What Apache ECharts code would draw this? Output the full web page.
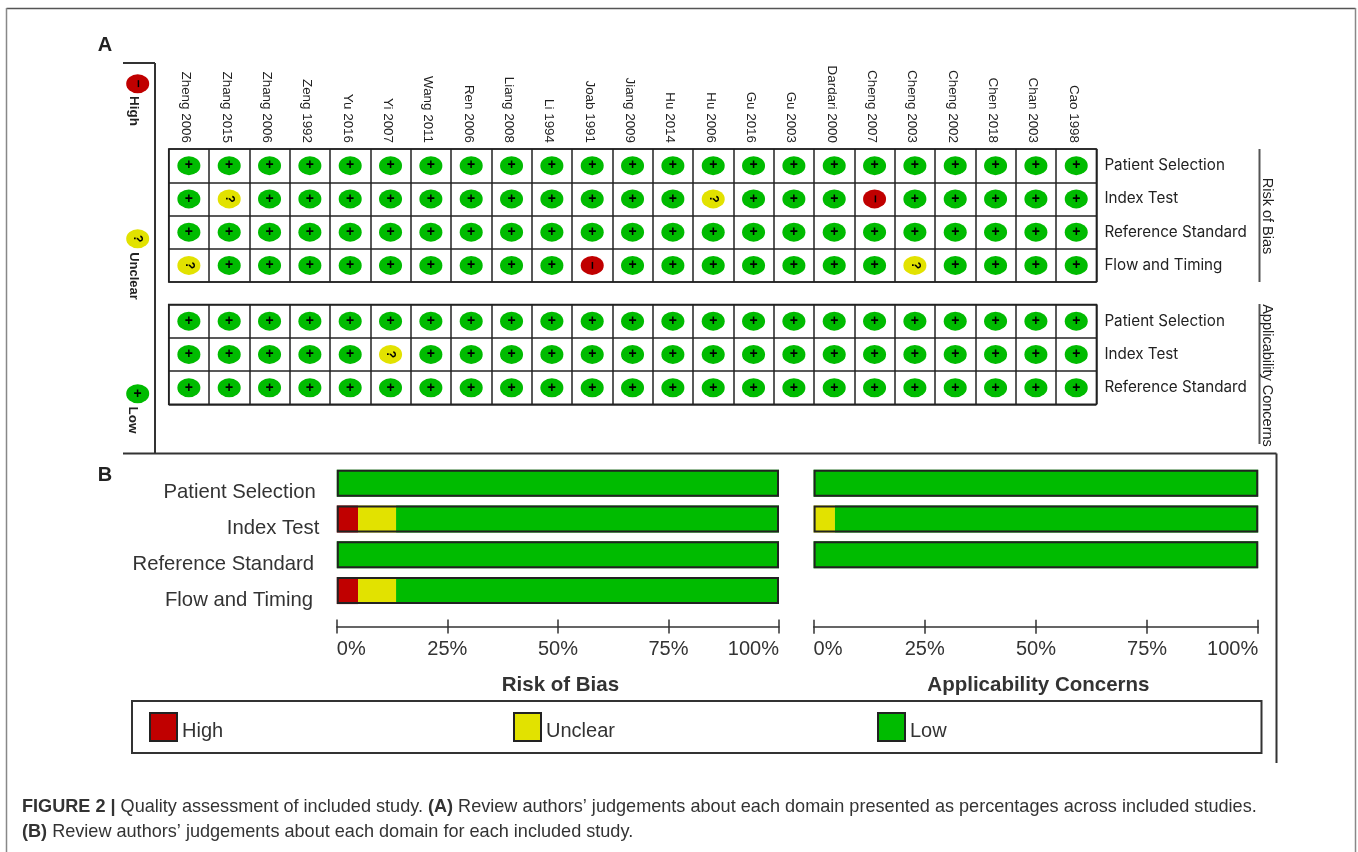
<!DOCTYPE html>
<html>
<head>
<meta charset="utf-8">
<style>html,body{margin:0;padding:0;background:#fff}#c{width:1358px;height:852px}</style>
<script src="https://cdn.jsdelivr.net/npm/echarts@6/dist/echarts.min.js"></script>
</head>
<body>
<div id="c"></div>
<script>
const studies = ['Zheng 2006','Zhang 2015','Zhang 2006','Zeng 1992','Yu 2016','Yi 2007','Wang 2011','Ren 2006','Liang 2008','Li 1994','Joab 1991','Jiang 2009','Hu 2014','Hu 2006','Gu 2016','Gu 2003','Dardari 2000','Cheng 2007','Cheng 2003','Cheng 2002','Chen 2018','Chan 2003','Cao 1998'];
const riskDomains = ['Patient Selection','Index Test','Reference Standard','Flow and Timing'];
const applicabilityDomains = ['Patient Selection','Index Test','Reference Standard'];
const riskJudgements = [
  'LLLLLLLLLLLLLLLLLLLLLLL',
  'LULLLLLLLLLLLULLLHLLLLL',
  'LLLLLLLLLLLLLLLLLLLLLLL',
  'ULLLLLLLLLHLLLLLLLULLLL'
];
const applicabilityJudgements = [
  'LLLLLLLLLLLLLLLLLLLLLLL',
  'LLLLLULLLLLLLLLLLLLLLLL',
  'LLLLLLLLLLLLLLLLLLLLLLL'
];
const judgementKeys = ['H','U','L'];
const judgementNames = ['High','Unclear','Low'];
const judgementColors = ['#c00000','#e2e200','#00bb00'];
const judgementMarks = ['\u2013','?','+'];
const riskHigh = [0,4.8,0,4.8];
const riskUnclear = [0,8.6,0,8.6];
const riskLow = [100,86.6,100,86.6];
const riskTotal = [100,100,100,100];
const applicabilityHigh = [0,0,0];
const applicabilityUnclear = [0,4.8,0];
const applicabilityLow = [100,95.2,100];
const applicabilityTotal = [100,100,100];
const percentTicks = {min:0,max:100,interval:25};
const riskLabelNudge = [3.6,0,5.3,6.3];

const ink = '#222';
const ellipse = 'path://M0,10 A10,10 0 1,1 20,10 A10,10 0 1,1 0,10 Z';
const dotStyle = k => ({
  show:true, position:'inside', color:'#000', fontFamily:'Liberation Sans', fontWeight:'bold',
  fontSize: k===1 ? 12 : 14, rotate: k===2 ? 0 : -90,
  formatter: () => judgementMarks[k]
});

function marks(rows, axisIdx){
  return judgementKeys.map((key,k)=>{
    const data=[];
    rows.forEach((row,r)=>[...row].forEach((c,s)=>{ if(c===key) data.push([s,r]); }));
    return {
      type:'scatter', name:judgementNames[k]+' mark', xAxisIndex:axisIdx, yAxisIndex:axisIdx,
      symbol:ellipse, symbolSize:[23,19], itemStyle:{color:judgementColors[k],opacity:1},
      label:dotStyle(k), silent:true, data
    };
  });
}
function matrixAxes(domains, showStudies, gridIndex){
  return {
    x:{type:'category',gridIndex,position:'top',data:studies,
       axisLine:{show:false},axisTick:{show:false},
       splitLine:{show:true,lineStyle:{color:ink,width:1.5}},
       axisLabel:{show:showStudies,interval:0,rotate:90,margin:6,fontSize:13.4,color:'#222',fontFamily:'Liberation Sans',
         formatter:'{s|{value}}',
         rich:{s:{fontSize:13.4,color:'#222',fontFamily:'Liberation Sans',padding:[6,0,0,0]}}}},
    y:{type:'category',gridIndex,position:'right',inverse:true,data:domains,
       axisLine:{show:false},axisTick:{show:false},
       splitLine:{show:true,lineStyle:{color:ink,width:1.5}},
       axisLabel:{margin:8,fontSize:15.2,color:'#222',fontFamily:'Inter'}}
  };
}
function percentAxes(gridIndex, offset, title){
  const base = Object.assign({type:'value',gridIndex,position:'bottom',offset},percentTicks);
  const line = {show:true,onZero:false,lineStyle:{color:'#333',width:1.5}};
  return [
    Object.assign({},base,{axisLine:line,splitLine:{show:false},
      axisTick:{show:true,length:7,lineStyle:{color:'#333',width:1.5}},
      axisLabel:{show:true,margin:13,fontSize:20,color:'#333',fontFamily:'Liberation Sans',formatter:'{value}%',alignMinLabel:'left',alignMaxLabel:'right',showMinLabel:true,showMaxLabel:true},
      name:title,nameLocation:'middle',nameGap:48,
      nameTextStyle:{fontSize:20.5,fontWeight:'bold',color:'#333',fontFamily:'Liberation Sans',padding:[0,0,0,5]}}),
    Object.assign({},base,{axisLine:{show:false},splitLine:{show:false},axisLabel:{show:false},
      axisTick:{show:true,inside:true,length:7,lineStyle:{color:'#333',width:1.5}}})
  ];
}
function bars(axisX,axisY,stack,high,unclear,low,total){
  const seg=(name,color,data)=>({type:'bar',name,stack,xAxisIndex:axisX,yAxisIndex:axisY,barWidth:27,barGap:'-100%',
    itemStyle:{color,borderWidth:0},silent:true,data});
  return [
    seg('High',judgementColors[0],high),
    seg('Unclear',judgementColors[1],unclear),
    seg('Low',judgementColors[2],low),
    {type:'bar',name:stack+' outline',xAxisIndex:axisX,yAxisIndex:axisY,barWidth:27,barGap:'-100%',z:5,silent:true,
     itemStyle:{color:'rgba(0,0,0,0)',borderColor:ink,borderWidth:2},data:total}
  ];
}
const a1 = matrixAxes(riskDomains,true,0), a2 = matrixAxes(applicabilityDomains,false,1);
const px1 = percentAxes(2,18,'Risk of Bias'), px2 = percentAxes(3,54,'Applicability Concerns');

const line=(x1,y1,x2,y2,color,w)=>({type:'line',shape:{x1,y1,x2,y2},style:{stroke:color||'#333',lineWidth:w||2},silent:true});
const text=(t,x,y,o)=>({type:'text',x,y,rotation:(o&&o.rot)||0,silent:true,style:Object.assign({text:t,fill:'#222',font:(o&&o.font)||'14px "Liberation Sans"',textAlign:'center',textVerticalAlign:'middle'},o&&o.style)});
const vtext=(t,x,y,font)=>text(t,x,y,{rot:-Math.PI/2,font});

const legendAt=(name,left)=>({show:true,data:[name],left,top:712,padding:0,orient:'horizontal',selectedMode:false,
  icon:'rect',itemWidth:27,itemHeight:28,itemStyle:{borderColor:ink,borderWidth:2},
  formatter:'{a|{name}}',
  textStyle:{fontSize:20,color:'#333',fontFamily:'Liberation Sans',
    rich:{a:{fontSize:20,color:'#333',fontFamily:'Liberation Sans',padding:[8,0,0,0]}}}});

const option={
  animation:false,backgroundColor:'#fff',
  title:[{
    left:22,top:794,padding:0,
    text:'{b|FIGURE 2 |} Quality assessment of included study. {b|(A)} Review authors\u2019 judgements about each domain presented as percentages across included studies.\n{b|(B)} Review authors\u2019 judgements about each domain for each included study.',
    textStyle:{fontSize:18.1,fontWeight:'normal',color:'#333',fontFamily:'Liberation Sans',lineHeight:25,
      rich:{b:{fontWeight:'bold',fontSize:18.1,color:'#333',fontFamily:'Liberation Sans',lineHeight:25}}}
  }],
  legend:[legendAt('High',149),legendAt('Unclear',513),legendAt('Low',877)],
  grid:[
    {left:168.7,top:149,width:927.7,height:133,show:true,borderColor:ink,borderWidth:1.5,backgroundColor:'transparent'},
    {left:168.7,top:304.5,width:927.7,height:99.8,show:true,borderColor:ink,borderWidth:1.5,backgroundColor:'transparent'},
    {left:336.8,top:465.3,width:442.2,height:143.2},
    {left:813.6,top:465.3,width:444.6,height:107.4},
    {left:125.7,top:6.2,width:24,height:465}
  ],
  xAxis:[a1.x,a2.x,px1[0],px1[1],px2[0],px2[1],{type:'value',gridIndex:4,min:0,max:1,show:false}],
  yAxis:[a1.y,a2.y,
    {type:'category',gridIndex:2,inverse:true,data:riskDomains,axisLine:{show:false},axisTick:{show:false},
     axisLabel:{margin:17.5,color:'#333',fontSize:20.3,fontFamily:'Liberation Sans',
       formatter:(v,i)=>'{n'+i+'|'+v+'}',
       rich:Object.fromEntries(riskLabelNudge.map((r,i)=>['n'+i,{fontSize:20.3,color:'#333',fontFamily:'Liberation Sans',padding:[19,r,0,0]}]))}},
    {type:'category',gridIndex:3,inverse:true,data:applicabilityDomains,axisLine:{show:false},axisTick:{show:false},axisLabel:{show:false}},
    {type:'category',gridIndex:4,inverse:true,data:judgementNames,show:false}
  ],
  series:[
    ...bars(2,2,'risk',riskHigh,riskUnclear,riskLow,riskTotal),
    ...bars(4,3,'applicability',applicabilityHigh,applicabilityUnclear,applicabilityLow,applicabilityTotal),
    ...marks(riskJudgements,0),
    ...marks(applicabilityJudgements,1),
    ...judgementNames.map((n,k)=>({type:'scatter',name:n+' key',xAxisIndex:6,yAxisIndex:4,symbol:ellipse,symbolSize:[23,19],
      itemStyle:{color:judgementColors[k],opacity:1},label:dotStyle(k),silent:true,data:[[0.5,k]]}))
  ],
  graphic:[
    line(6.5,8.5,1355.5,8.5,'#555',1.5),
    line(1355.5,8,1355.5,852,'#888',1.5),
    line(6.5,8,6.5,852,'#888',1.5),
    line(123,63,155,63),
    line(155,63,155,453.5),
    line(123,453.5,1276.5,453.5),
    line(1276.5,453.5,1276.5,763),
    line(1259.5,149,1259.5,282,'#555',2),
    line(1259.5,304,1259.5,444,'#555',2),
    {type:'rect',shape:{x:132,y:701,width:1129.5,height:52},style:{fill:'none',stroke:'#333',lineWidth:2},silent:true},
    text('A',105,45,{font:'bold 20px "Liberation Sans"'}),
    text('B',105,475,{font:'bold 20px "Liberation Sans"'}),
    vtext('High',134,111,'bold 13.5px "Liberation Sans"'),
    vtext('Unclear',134,276,'bold 13px "Liberation Sans"'),
    vtext('Low',133,420,'bold 13.5px "Liberation Sans"'),
    vtext('Risk of Bias',1266.5,216,'14.5px "Liberation Sans"'),
    vtext('Applicability Concerns',1266.5,375.5,'14.5px "Liberation Sans"')
  ]
};
echarts.init(document.getElementById('c'),null,{renderer:'canvas'}).setOption(option);
</script>
</body>
</html>
